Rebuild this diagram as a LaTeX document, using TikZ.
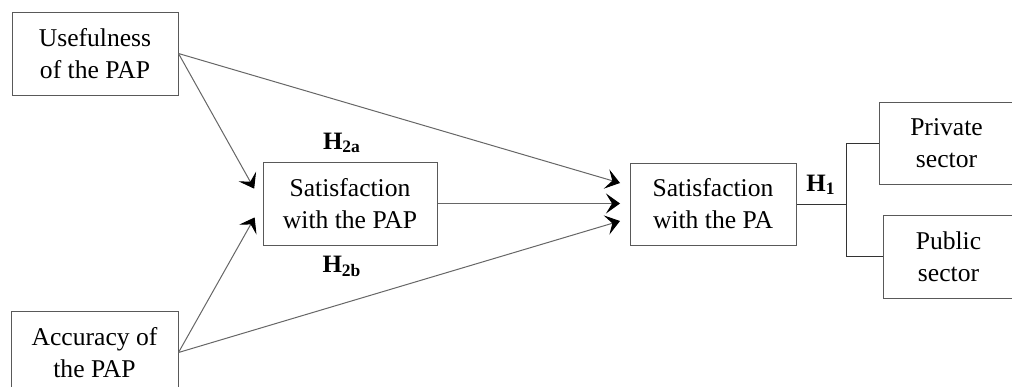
\documentclass[tikz,border=0pt]{standalone}
\usepackage{fontspec}
\setmainfont{Liberation Serif}
\usetikzlibrary{arrows.meta,calc}
\begin{document}
\begin{tikzpicture}[x=0.5pt,y=-0.5pt,
  box/.style={draw=black!65,line width=0.5pt,align=center,inner sep=0pt,
    font=\fontsize{12.8}{16}\selectfont,text=black},
  conn/.style={draw=black!60,line width=0.5pt},
  arr/.style={conn,-{Stealth[length=7pt,width=10pt,inset=3pt,black]}},
  hyp/.style={font=\fontsize{12.5}{14}\selectfont\bfseries,inner sep=0pt}]
\useasboundingbox (0,0) rectangle (1012,386);
\begin{scope}
\clip (0,0) rectangle (1012,386);
\node[box,minimum width=83pt,minimum height=41.5pt] (use) at (95,53.5) {Usefulness\\of the PAP};
\node[box,minimum width=83.5pt,minimum height=41.5pt] (acc) at (94.5,352.5) {Accuracy of\\the PAP};
\node[box,minimum width=87pt,minimum height=41.5pt] (pap) at (350,203.5) {Satisfaction\\with the PAP};
\node[box,minimum width=83pt,minimum height=41pt] (pa) at (713,204) {Satisfaction\\with the PA};
\node[box,minimum width=67.5pt,minimum height=41pt] (priv) at (946.5,143) {Private\\sector};
\node[box,minimum width=65.5pt,minimum height=41.5pt] (pub) at (948.5,256.5) {Public\\sector};
\end{scope}
\node[hyp] (h2a) at (342,143) {H\textsubscript{2a}};
\node[hyp] (h2b) at (342,266) {H\textsubscript{2b}};
\node[hyp] (h1) at (821,185) {H\textsubscript{1}};
\coordinate (t1) at (620,183);
\coordinate (t2) at (620,203.5);
\coordinate (t3) at (620,221);
\draw[arr,shorten >=8.5pt] (use.east) -- (pap.west);
\draw[arr,shorten >=8pt] (acc.east) -- (pap.west);
\draw[arr] (use.east) -- (t1);
\draw[arr] (pap.east) -- (t2);
\draw[arr] (acc.east) -- (t3);
\coordinate (j) at (846,204);
\draw[conn,draw=black!80] (pa.east) -- (j);
\draw[conn,draw=black!80] (priv.west) -| (j) |- (pub.west);
\end{tikzpicture}
\end{document}
